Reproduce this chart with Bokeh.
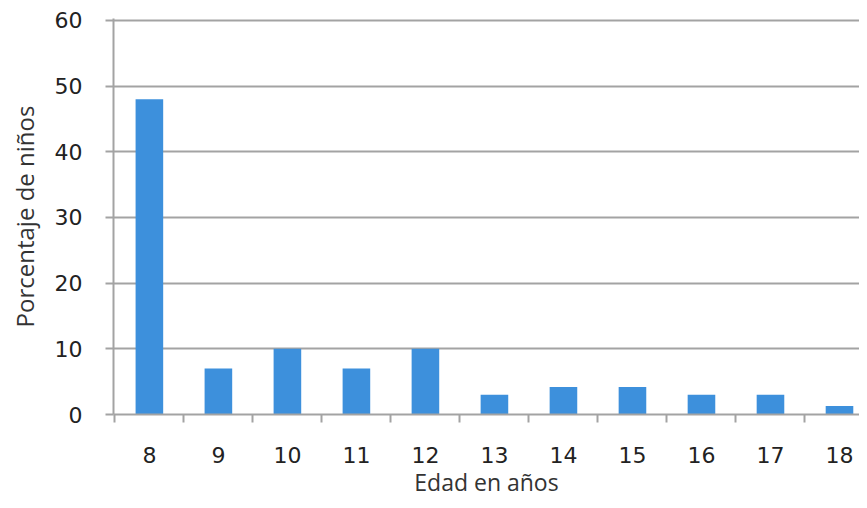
from bokeh.plotting import figure
from bokeh.models import Range1d, FixedTicker, ColumnDataSource
from bokeh.embed import file_html
from bokeh.resources import INLINE

ages = [8, 9, 10, 11, 12, 13, 14, 15, 16, 17, 18]
percent = [48, 7, 10, 7, 10, 3, 4.2, 4.2, 3, 3, 1.3]
y_ticks = [0, 10, 20, 30, 40, 50, 60]
x_title = "Edad en años"
y_title = "Porcentaje de niños"

src = ColumnDataSource(data=dict(x=ages, top=percent))

p = figure(width=859, height=500, output_backend="svg", toolbar_location=None,
           x_range=Range1d(ages[0] - 0.52, ages[-1] + 0.29),
           y_range=Range1d(0, 60.3),
           min_border_left=113, min_border_top=18, min_border_right=0,
           min_border_bottom=84)
p.outline_line_color = None
p.background_fill_color = "white"

p.vbar(x="x", top="top", width=0.4, source=src, fill_color="#3d90dc",
       line_color=None)

grey = "#a3a3a3"
# x axis
xa = p.xaxis[0]
xa.ticker = FixedTicker(ticks=ages, minor_ticks=[a - 0.5 for a in ages])
xa.major_tick_out = 0
xa.major_tick_in = 0
xa.minor_tick_out = 8
xa.minor_tick_in = 0
xa.minor_tick_line_color = grey
xa.minor_tick_line_width = 2
xa.axis_line_color = grey
xa.axis_line_width = 2
xa.major_label_text_font = "DejaVu Sans"
xa.major_label_text_font_size = "22px"
xa.major_label_text_color = "#222222"
xa.major_label_standoff = 24
xa.axis_label = x_title
xa.axis_label_text_font = "Open Sans"
xa.axis_label_text_font_style = "normal"
xa.axis_label_text_font_size = "23px"
xa.axis_label_text_color = "#333333"
xa.axis_label_standoff = 0

# y axis
ya = p.yaxis[0]
ya.ticker = FixedTicker(ticks=y_ticks)
ya.major_tick_out = 8
ya.major_tick_in = 0
ya.major_tick_line_color = grey
ya.major_tick_line_width = 2
ya.minor_tick_line_color = None
ya.axis_line_color = grey
ya.axis_line_width = 2
ya.major_label_text_font = "DejaVu Sans"
ya.major_label_text_font_size = "22px"
ya.major_label_text_color = "#222222"
ya.major_label_standoff = 23
ya.axis_label = y_title
ya.axis_label_text_font = "Open Sans"
ya.axis_label_text_font_style = "normal"
ya.axis_label_text_font_size = "24px"
ya.axis_label_text_color = "#333333"
ya.axis_label_standoff = 11

p.xgrid.grid_line_color = None
p.ygrid.ticker = FixedTicker(ticks=y_ticks)
p.ygrid.grid_line_color = grey
p.ygrid.grid_line_width = 2

open("out.html", "w").write(file_html(p, INLINE))
